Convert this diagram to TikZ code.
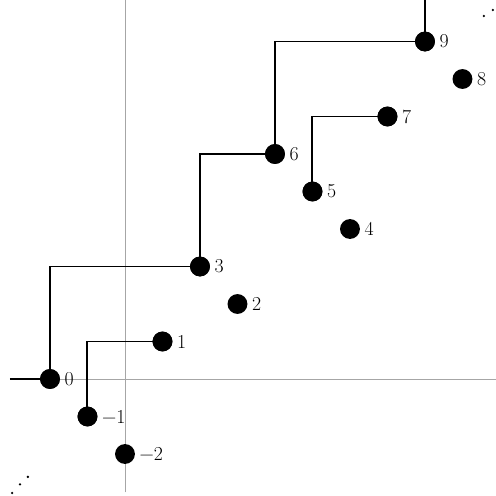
\documentclass[tikz,border=0pt]{standalone}
\usepackage{fontspec}
\begin{document}
\begin{tikzpicture}[
  axis/.style={gray!70, line width=0.6pt},
  conn/.style={black, line width=1.5pt},
  pt/.style={circle, fill=black, minimum size=0.53cm, inner sep=0pt},
  lab/.style={anchor=west, inner sep=0pt, font=\fontsize{15}{18}\selectfont}
]
\useasboundingbox (-3.333,-3.12) rectangle (9.893,10.107);
% axes
\coordinate (xl) at (-3.07,0);
\coordinate (xr) at (9.893,0);
\coordinate (yb) at (0,-3.02);
\coordinate (yt) at (0,10.107);
\draw[axis] (xl) -- (xr);
\draw[axis] (yb) -- (yt);
% points
\node[pt] (m2) at (0,-2) {};
\node[pt] (m1) at (-1,-1) {};
\node[pt] (p0) at (-2,0) {};
\node[pt] (p1) at (1,1) {};
\node[pt] (p2) at (3,2) {};
\node[pt] (p3) at (2,3) {};
\node[pt] (p4) at (6,4) {};
\node[pt] (p5) at (5,5) {};
\node[pt] (p6) at (4,6) {};
\node[pt] (p7) at (7,7) {};
\node[pt] (p8) at (9,8) {};
\node[pt] (p9) at (8,9) {};
% labels
\foreach \n/\t in {m2/−2,m1/−1,p0/0,p1/1,p2/2,p3/3,p4/4,p5/5,p6/6,p7/7,p8/8,p9/9}
  \node[lab] (l\n) at ([xshift=0.11cm]\n.east) {\t};
% connectors
\coordinate (left) at (-3.07,0);
\coordinate (top) at (8,10.107);
\draw[conn] (left) -- (p0.center);
\draw[conn] (p0.center) |- (p3.center);
\draw[conn] (p3.center) |- (p6.center);
\draw[conn] (p6.center) |- (p9.center);
\draw[conn] (p9.center) -- (top);
\draw[conn] (m1.center) |- (p1.center);
\draw[conn] (p5.center) |- (p7.center);
% redraw dots on top
\foreach \p in {m1,p0,p1,p3,p5,p6,p7,p9} \fill (\p) circle (0.265);
% ellipsis dots
\foreach \x/\y in {-3.01/-3.04,-2.80/-2.81,-2.59/-2.61,9.57/9.68,9.81/9.84,10.05/10.0}
  \fill (\x,\y) circle (0.035);
\end{tikzpicture}
\end{document}
